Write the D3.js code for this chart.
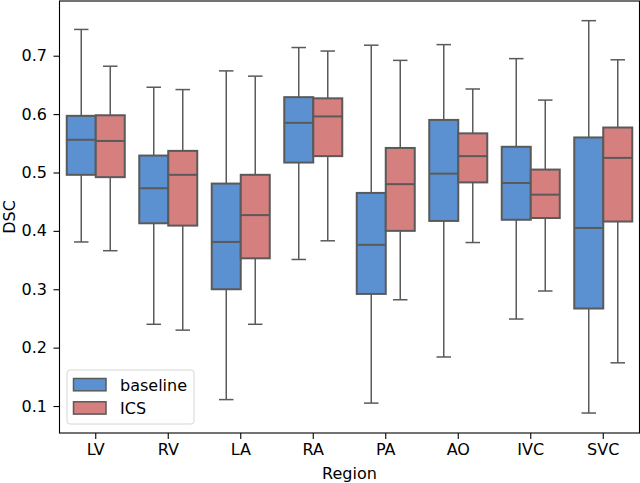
<!DOCTYPE html>
<html>
<head>
<meta charset="utf-8">
<script src="https://cdn.jsdelivr.net/npm/d3@7"></script>
<style>
  body { margin: 0; background: #fff; }
  svg text { font-family: "DejaVu Sans", sans-serif; fill: #000; }
</style>
</head>
<body>
<div id="chart"></div>
<script>
const regions = ["LV", "RV", "LA", "RA", "PA", "AO", "IVC", "SVC"];
const groups = ["baseline", "ICS"];

// [whisker low, Q1, median, Q3, whisker high] per region
const baselineStats = [
  [0.381, 0.496, 0.556, 0.597, 0.745],
  [0.240, 0.413, 0.473, 0.529, 0.646],
  [0.111, 0.300, 0.381, 0.481, 0.674],
  [0.351, 0.517, 0.585, 0.629, 0.714],
  [0.105, 0.292, 0.376, 0.465, 0.718],
  [0.184, 0.417, 0.498, 0.590, 0.719],
  [0.249, 0.419, 0.482, 0.544, 0.695],
  [0.088, 0.267, 0.405, 0.560, 0.760]
];
const icsStats = [
  [0.366, 0.492, 0.554, 0.598, 0.682],
  [0.230, 0.409, 0.496, 0.537, 0.642],
  [0.240, 0.353, 0.427, 0.496, 0.665],
  [0.383, 0.528, 0.596, 0.627, 0.708],
  [0.282, 0.400, 0.480, 0.542, 0.692],
  [0.380, 0.483, 0.528, 0.567, 0.643],
  [0.297, 0.422, 0.462, 0.505, 0.624],
  [0.174, 0.416, 0.525, 0.577, 0.693]
];
const yTicks = [0.1, 0.2, 0.3, 0.4, 0.5, 0.6, 0.7];

const width = 640, height = 483;
const margin = { top: 1, right: 0.5, bottom: 50, left: 59.5 };
const colors = { baseline: "#5b91d1", ICS: "#d67f7f" };
const edge = "#5a5a5a";
const fs = 16;

const svg = d3.select("#chart").append("svg")
  .attr("width", width).attr("height", height);

const x = d3.scaleBand().domain(regions)
  .range([margin.left, width - margin.right]).padding(0);
const inner = d3.scaleBand().domain(groups)
  .range([0, x.bandwidth() * 0.8]).padding(0);
const y = d3.scaleLinear().domain([0.0538, 0.7937])
  .range([height - margin.bottom, margin.top]);

const data = [];
regions.forEach((r, i) => {
  data.push({ region: r, group: "baseline", s: baselineStats[i] });
  data.push({ region: r, group: "ICS", s: icsStats[i] });
});

const g = svg.append("g");
const box = g.selectAll(".box").data(data).join("g")
  .attr("class", "box")
  .attr("transform", d => `translate(${x(d.region) + x.bandwidth() * 0.1 + inner(d.group)},0)`);

const bw = inner.bandwidth();
const capW = bw / 2;

// whiskers
box.append("line")
  .attr("x1", bw / 2).attr("x2", bw / 2)
  .attr("y1", d => y(d.s[0])).attr("y2", d => y(d.s[1]))
  .attr("stroke", edge).attr("stroke-width", 1.5);
box.append("line")
  .attr("x1", bw / 2).attr("x2", bw / 2)
  .attr("y1", d => y(d.s[3])).attr("y2", d => y(d.s[4]))
  .attr("stroke", edge).attr("stroke-width", 1.5);
// caps
box.append("line")
  .attr("x1", bw / 2 - capW / 2).attr("x2", bw / 2 + capW / 2)
  .attr("y1", d => y(d.s[0])).attr("y2", d => y(d.s[0]))
  .attr("stroke", edge).attr("stroke-width", 1.5);
box.append("line")
  .attr("x1", bw / 2 - capW / 2).attr("x2", bw / 2 + capW / 2)
  .attr("y1", d => y(d.s[4])).attr("y2", d => y(d.s[4]))
  .attr("stroke", edge).attr("stroke-width", 1.5);
// box
box.append("rect")
  .attr("x", 0).attr("width", bw)
  .attr("y", d => y(d.s[3]))
  .attr("height", d => y(d.s[1]) - y(d.s[3]))
  .attr("fill", d => colors[d.group])
  .attr("stroke", edge).attr("stroke-width", 2);
// median
box.append("line")
  .attr("x1", 0).attr("x2", bw)
  .attr("y1", d => y(d.s[2])).attr("y2", d => y(d.s[2]))
  .attr("stroke", edge).attr("stroke-width", 2);

// axes
const xAxis = svg.append("g")
  .attr("transform", `translate(0,${height - margin.bottom})`)
  .call(d3.axisBottom(x).tickSize(6).tickPadding(4.5));
const yAxis = svg.append("g")
  .attr("transform", `translate(${margin.left},0)`)
  .call(d3.axisLeft(y).tickValues(yTicks).tickFormat(d3.format(".1f")).tickSize(6).tickPadding(6.5));
[xAxis, yAxis].forEach(a => {
  a.select(".domain").remove();
  a.selectAll("line").attr("stroke", "#000").attr("stroke-width", 1.1);
  a.selectAll("text").attr("font-size", fs).attr("font-family", "DejaVu Sans, sans-serif");
});

// frame
svg.append("rect")
  .attr("x", margin.left).attr("y", margin.top)
  .attr("width", width - margin.right - margin.left)
  .attr("height", height - margin.bottom - margin.top)
  .attr("fill", "none").attr("stroke", "#000").attr("stroke-width", 1.1);

svg.append("text")
  .attr("x", (margin.left + width - margin.right) / 2).attr("y", 479)
  .attr("text-anchor", "middle").attr("font-size", fs)
  .text("Region");
svg.append("text")
  .attr("transform", `translate(14.5,${(margin.top + height - margin.bottom) / 2}) rotate(-90)`)
  .attr("text-anchor", "middle").attr("font-size", fs)
  .text("DSC");

// legend
const legend = svg.append("g").attr("transform", "translate(67,370)");
legend.append("rect")
  .attr("width", 127).attr("height", 54).attr("rx", 3)
  .attr("fill", "#fff").attr("fill-opacity", 0.8)
  .attr("stroke", "#d6d6d6").attr("stroke-width", 1);
groups.forEach((grp, i) => {
  legend.append("rect")
    .attr("x", 6.5).attr("y", 8.5 + i * 23.3)
    .attr("width", 32.5).attr("height", 12.3)
    .attr("fill", colors[grp]).attr("stroke", edge).attr("stroke-width", 1.5);
  legend.append("text")
    .attr("x", 53).attr("y", 20.5 + i * 23.3)
    .attr("font-size", fs).text(grp);
});
</script>
</body>
</html>
